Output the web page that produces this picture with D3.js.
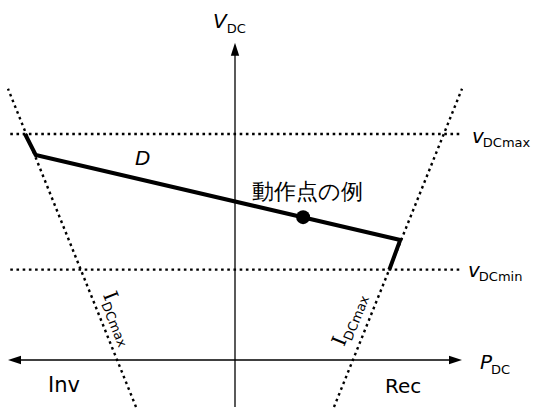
<!DOCTYPE html>
<html>
<head>
<meta charset="utf-8">
<script src="https://cdn.jsdelivr.net/npm/d3@7"></script>
<style>
  html, body { margin: 0; padding: 0; background: #fff; }
  svg { display: block; }
  text { font-family: "DejaVu Sans", Verdana, sans-serif; fill: #000; }
</style>
</head>
<body>
<svg id="chart" width="533" height="408"></svg>
<script>
// ---- data (P_DC, V_DC in normalised units) ----
const pDomain = [-1, 1];
const vDomain = [0, 1];
const vAxisExtent = [-0.208, 1.404];
const vDCmax = 1.0;
const vDCmin = 0.4;
const refLineP = [-0.99, 0.99];
const invLimit = [[-0.436, -0.208], [-1.0, 1.2]];   // I_DCmax line (inverter side)
const recLimit = [[0.436, -0.208], [1.0, 1.2]];     // I_DCmax line (rectifier side)
const curveD = [[-0.925, 1.0], [-0.878, 0.907], [0.728, 0.531], [0.68, 0.4]];
const opPoint = [0.30, 0.632];
const labels = { vdc: "V", vdcSub: "DC", pdc: "P", pdcSub: "DC", vmax: "v", vmaxSub: "DCmax",
                 vmin: "v", vminSub: "DCmin", imax: "I", imaxSub: "DCmax", d: "D",
                 op: "動作点の例", inv: "Inv", rec: "Rec" };

const svg = d3.select("#chart");
const x = d3.scaleLinear().domain(pDomain).range([8, 462]);
const y = d3.scaleLinear().domain(vDomain).range([360, 134]);
const line = d3.line().x(d => x(d[0])).y(d => y(d[1]));

// axes
svg.append("line").attr("x1", x(pDomain[0]) + 4).attr("x2", x(pDomain[1]) - 4)
  .attr("y1", y(0)).attr("y2", y(0)).attr("stroke", "#000").attr("stroke-width", 1.3);
svg.append("line").attr("x1", x(0)).attr("x2", x(0))
  .attr("y1", y(vAxisExtent[0])).attr("y2", y(vAxisExtent[1]) + 4)
  .attr("stroke", "#000").attr("stroke-width", 1.3);
function arrow(tx, ty, dir) {
  const L = 13, W = 4.2;
  const bx = tx - L * Math.cos(dir), by = ty - L * Math.sin(dir);
  const nx = -Math.sin(dir) * W, ny = Math.cos(dir) * W;
  svg.append("path")
    .attr("d", `M${tx},${ty}L${bx + nx},${by + ny}L${bx - nx},${by - ny}Z`)
    .attr("fill", "#000");
}
arrow(x(pDomain[1]), y(0), 0);
arrow(x(pDomain[0]), y(0), Math.PI);
arrow(x(0), y(vAxisExtent[1]), -Math.PI / 2);

// dotted reference lines
const dotted = sel => sel.attr("fill", "none").attr("stroke", "#000")
  .attr("stroke-width", 2.4).attr("stroke-dasharray", "2.6,3.6");
[vDCmax, vDCmin].forEach(v => {
  svg.append("path").attr("d", line([[refLineP[0], v], [refLineP[1], v]])).call(dotted);
});
svg.append("path").attr("d", line(invLimit)).call(dotted);
svg.append("path").attr("d", line(recLimit)).call(dotted);

// characteristic D
svg.append("path").attr("d", line(curveD)).attr("fill", "none")
  .attr("stroke", "#000").attr("stroke-width", 4).attr("stroke-linejoin", "miter");
svg.append("circle").attr("cx", x(opPoint[0])).attr("cy", y(opPoint[1])).attr("r", 7).attr("fill", "#000");

// labels
function subLabel(tx, ty, main, sub, opts = {}) {
  const t = svg.append("text").attr("x", tx).attr("y", ty).attr("font-size", opts.size || 20);
  t.append("tspan").text(main).attr("font-style", "italic");
  t.append("tspan").text(sub).attr("font-size", 13).attr("font-style", "normal")
    .attr("dx", opts.dx || 0).attr("dy", opts.dy || 5);
  return t;
}
subLabel(x(0) - 22, 28, labels.vdc, labels.vdcSub, { dx: 0, dy: 5 });
subLabel(x(pDomain[1]) + 18, y(0) + 9, labels.pdc, labels.pdcSub, { dx: -1, dy: 5 });
subLabel(x(pDomain[1]) + 10, y(vDCmax) + 9, labels.vmax, labels.vmaxSub, { dx: -1, dy: 4 });
subLabel(x(pDomain[1]) + 6, y(vDCmin) + 7, labels.vmin, labels.vminSub, { dx: -1, dy: 4 });

svg.append("text").attr("x", 135).attr("y", 165).attr("font-size", 20)
  .attr("font-style", "italic").text(labels.d);
svg.append("text").attr("x", x(opPoint[0]) - 51).attr("y", y(opPoint[1]) - 18)
  .attr("font-size", 22).attr("font-family", "'Noto Sans CJK JP', sans-serif").text(labels.op);
svg.append("text").attr("x", 48).attr("y", 392).attr("font-size", 21).text(labels.inv);
svg.append("text").attr("x", 385).attr("y", 393).attr("font-size", 20).text(labels.rec);

// rotated I_DCmax labels along limit lines
function limitLabel(seg, vAt, off, reverse) {
  const p0 = [x(seg[0][0]), y(seg[0][1])], p1 = [x(seg[1][0]), y(seg[1][1])];
  let ang = Math.atan2(p1[1] - p0[1], p1[0] - p0[0]) * 180 / Math.PI;
  if (!reverse) ang += 180;
  const t = (vAt - seg[0][1]) / (seg[1][1] - seg[0][1]);
  const px = p0[0] + t * (p1[0] - p0[0]), py = p0[1] + t * (p1[1] - p0[1]);
  const g = svg.append("g").attr("transform", `translate(${px},${py}) rotate(${ang})`);
  const txt = g.append("text").attr("x", 0).attr("y", -off).attr("font-size", 20);
  txt.append("tspan").text(labels.imax).attr("font-family", "'DejaVu Serif', serif");
  txt.append("tspan").text(labels.imaxSub).attr("font-size", 13).attr("dy", 5);
}
limitLabel(invLimit, 0.27, 11, false);
limitLabel(recLimit, 0.035, 13, true);
</script>
</body>
</html>
